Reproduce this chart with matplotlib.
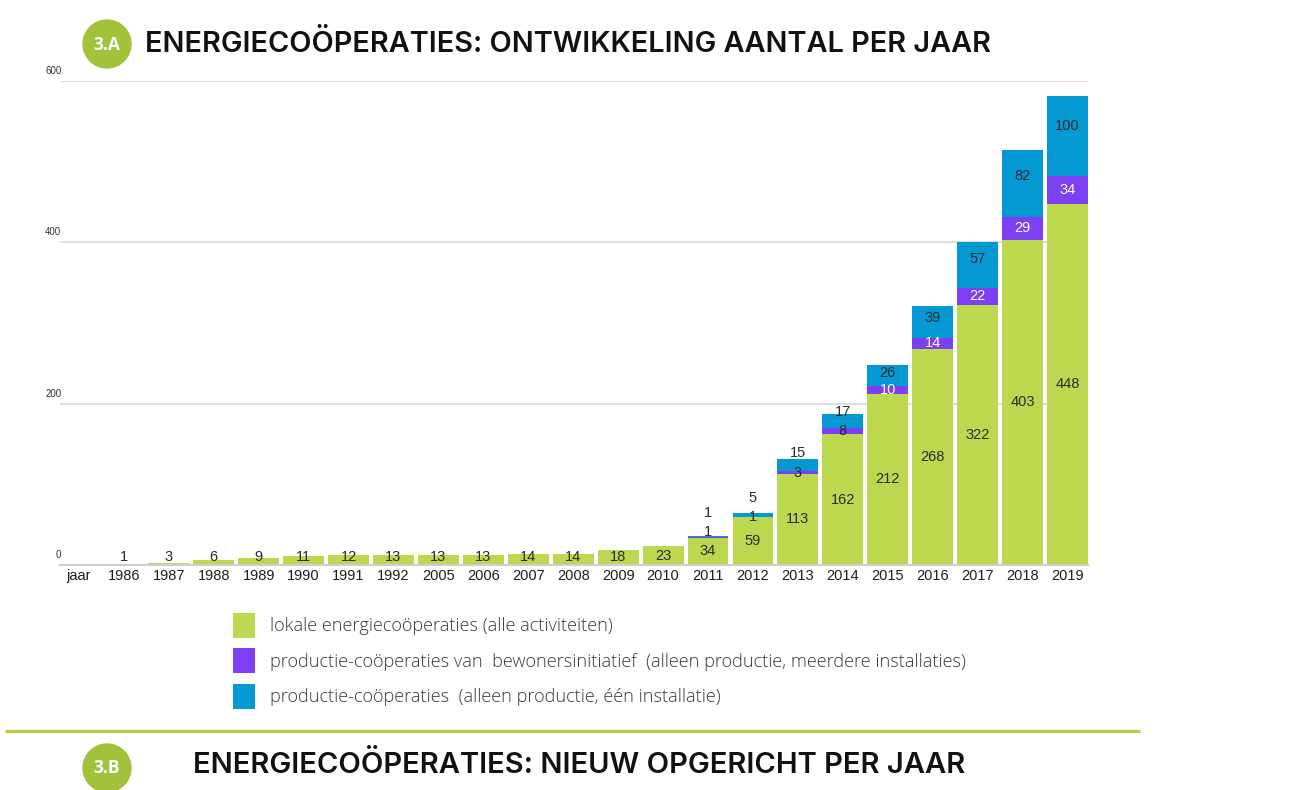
import numpy as np
import matplotlib
matplotlib.use("Agg")
import matplotlib.pyplot as plt
from matplotlib.patches import Patch, Circle
from matplotlib.transforms import offset_copy

# ---------------- data ----------------
categories = ["jaar", "1986", "1987", "1988", "1989", "1990", "1991", "1992",
              "2005", "2006", "2007", "2008", "2009", "2010", "2011", "2012",
              "2013", "2014", "2015", "2016", "2017", "2018", "2019"]
lokale = [0, 1, 3, 6, 9, 11, 12, 13, 13, 13, 14, 14, 18, 23, 34, 59,
          113, 162, 212, 268, 322, 403, 448]
bewoners = [0, 0, 0, 0, 0, 0, 0, 0, 0, 0, 0, 0, 0, 0, 1, 1,
            3, 8, 10, 14, 22, 29, 34]
productie = [0, 0, 0, 0, 0, 0, 0, 0, 0, 0, 0, 0, 0, 0, 1, 5,
             15, 17, 26, 39, 57, 82, 100]
yticks = [0, 200, 400, 600]
series_names = ["lokale energiecoöperaties (alle activiteiten)",
                "productie-coöperaties van  bewonersinitiatief  (alleen productie, meerdere installaties)",
                "productie-coöperaties  (alleen productie, één installatie)"]
title_a = "ENERGIECOÖPERATIES: ONTWIKKELING AANTAL PER JAAR"
title_b = "ENERGIECOÖPERATIES: NIEUW OPGERICHT PER JAAR"

C_GREEN = "#bcd84f"
C_PURPLE = "#7c3ff2"
C_BLUE = "#0599d3"
C_BADGE = "#a3c23c"
C_TEXT = "#2b2b2b"

W, H = 1299, 790
fig = plt.figure(figsize=(W / 100, H / 100), dpi=100)
fig.patch.set_facecolor("white")

# ---------------- chart ----------------
ax = fig.add_axes([60 / W, (H - 565) / H, (1088 - 60) / W, (565 - 81) / H])
x = np.arange(len(categories))
lok = np.array(lokale, float)
bew = np.array(bewoners, float)
pro = np.array(productie, float)
bw = 0.91
ax.bar(x, lok, bw, color=C_GREEN, zorder=3)
ax.bar(x, bew, bw, bottom=lok, color=C_PURPLE, zorder=3)
ax.bar(x, pro, bw, bottom=lok + bew, color=C_BLUE, zorder=3)

ax.set_xlim(-0.42, len(categories) - 1 + 0.455)
ax.set_ylim(0, 600)
for s in ["top", "right", "left"]:
    ax.spines[s].set_visible(False)
ax.spines["bottom"].set_color("#cfcfcf")
ax.spines["bottom"].set_linewidth(1.5)
ax.spines["bottom"].set_zorder(4)
ax.set_yticks(yticks)
ax.yaxis.grid(True, color="#dcdcdc", linewidth=1.3, zorder=0)
ax.tick_params(axis="y", length=0, labelleft=False)
ax.set_xticks(x, categories)
ax.tick_params(axis="x", length=0, pad=3, labelsize=10.5, labelcolor="#1e1e1e")
for lab in ax.get_xticklabels():
    lab.set_fontfamily("Liberation Sans")

ytr = offset_copy(ax.get_yaxis_transform(), fig=fig, x=1, y=3.5, units="points")
for v in yticks:
    ax.text(0, v, str(v), transform=ytr, ha="right", va="bottom",
            fontsize=7, color="#333333", family="Liberation Sans")

# value labels
lab_kw = dict(ha="center", va="center", fontsize=10.5, family="Liberation Sans", zorder=5,
              clip_on=False)
gap = 24
for i in x:
    g, p, b = lok[i], bew[i], pro[i]
    if g <= 0:
        continue
    yg = max(g / 2, 10)
    ax.text(i, yg, f"{int(g)}", color=C_TEXT, **lab_kw)
    yp = yg
    if p > 0:
        yp = max(g + p / 2, yg + gap)
        ax.text(i, yp, f"{int(p)}", color="white" if p >= 10 else C_TEXT, **lab_kw)
    if b > 0:
        c = g + p + b / 2
        if b >= 20:
            yb = c + min(0.12 * b, 12)
        else:
            yb = max(c, yp + gap)
        ax.text(i, yb, f"{int(b)}", color=C_TEXT, **lab_kw)

# ---------------- legend ----------------
handles = [Patch(facecolor=C_GREEN, edgecolor="none"),
           Patch(facecolor=C_PURPLE, edgecolor="none"),
           Patch(facecolor=C_BLUE, edgecolor="none")]
fig.legend(handles, series_names, loc="upper left",
           bbox_to_anchor=(233 / W, 1 - 613 / H), frameon=False,
           prop={"family": "Open Sans", "size": 13.1, "weight": "light"},
           labelcolor="#3a3a3a", handlelength=1.2, handleheight=1.7,
           handletextpad=0.85, labelspacing=0.6, borderpad=0, borderaxespad=0)

# ---------------- decorations ----------------
ov = fig.add_axes([0, 0, 1, 1], zorder=10)
ov.set_xlim(0, W)
ov.set_ylim(H, 0)
ov.axis("off")
ov.patch.set_alpha(0)

ov.add_patch(Circle((107, 44), 24, color=C_BADGE))
ov.text(107, 45, "3.A", ha="center", va="center", color="white",
        fontsize=12.5, fontweight="bold", family="Open Sans")
ov.text(145, 44, title_a, ha="left", va="center", color="#111111",
        fontsize=20.8, fontweight="semibold", family="Inter")

ov.plot([5, 1140], [731, 731], color="#b3cf4e", lw=2.3, solid_capstyle="butt")

ov.add_patch(Circle((107, 768), 24, color=C_BADGE))
ov.text(107, 768, "3.B", ha="center", va="center", color="white",
        fontsize=12.5, fontweight="bold", family="Open Sans")
ov.text(193, 765, title_b, ha="left", va="center", color="#111111",
        fontsize=21, fontweight="semibold", family="Inter")

fig.savefig("out.png", dpi=100, facecolor="white")
